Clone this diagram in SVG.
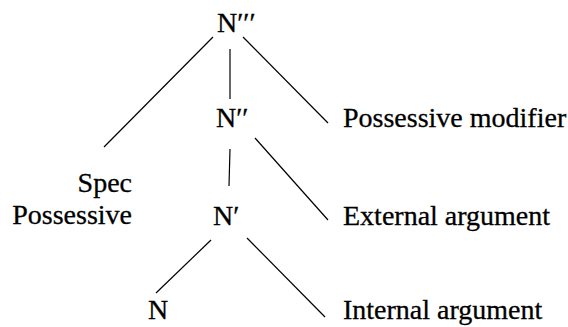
<svg xmlns="http://www.w3.org/2000/svg" width="568" height="327" viewBox="0 0 568 327">
<style>
text{font-family:"Liberation Serif","Times New Roman",serif;font-size:28px;fill:#000;stroke:#000;stroke-width:0.3}
.e line{stroke:#000;stroke-width:1.2;fill:none}
</style>
<rect width="568" height="327" fill="#fff"/>
<g id="n3"><text x="217" y="32">N′′′</text></g>
<g id="n2"><text x="216" y="127">N′′</text></g>
<g id="n1"><text x="213" y="225">N′</text></g>
<g id="n0"><text x="148" y="319">N</text></g>
<g id="spec"><text x="132" y="192" text-anchor="end">Spec</text><text x="132" y="224" text-anchor="end">Possessive</text></g>
<g id="posmod"><text x="343" y="127">Possessive modifier</text></g>
<g id="extarg"><text x="343" y="225">External argument</text></g>
<g id="intarg"><text x="343" y="319">Internal argument</text></g>
<g class="e" id="edges">
<line x1="213" y1="37" x2="104" y2="147"/>
<line x1="230" y1="49" x2="230" y2="99"/>
<line x1="243" y1="37" x2="328" y2="123"/>
<line x1="230" y1="149" x2="229" y2="186"/>
<line x1="255" y1="138" x2="328" y2="220"/>
<line x1="211" y1="240" x2="156" y2="293"/>
<line x1="247" y1="238" x2="325" y2="317"/>
</g>
</svg>
